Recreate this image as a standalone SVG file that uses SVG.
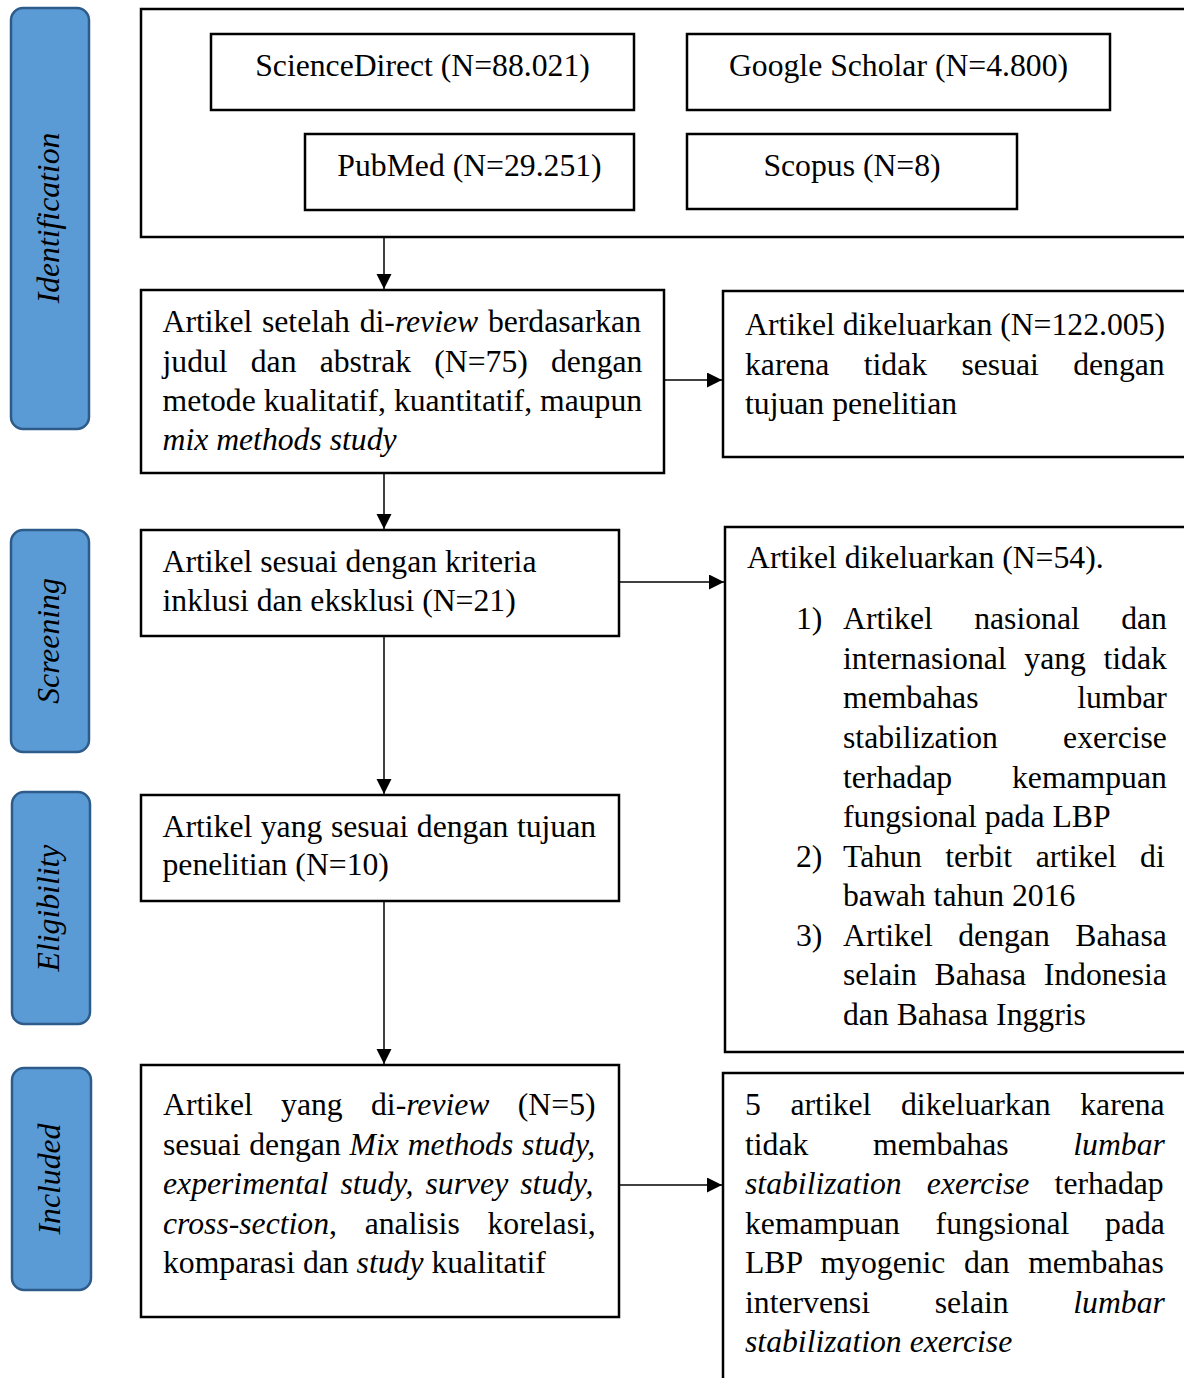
<svg xmlns="http://www.w3.org/2000/svg" width="1184" height="1378" viewBox="0 0 1184 1378">
<style>
.box{fill:#fff;stroke:#000;stroke-width:2.5}
.tab{fill:#5B9BD5;stroke:#2E5C8A;stroke-width:2.5}
.t{font-family:"Liberation Serif","Times New Roman",serif;font-size:31.7px;fill:#000}
.c{text-anchor:middle}
.i{font-style:italic}
.conn{stroke:#000;stroke-width:1.5;fill:none;marker-end:url(#arr)}
</style>
<defs>
<marker id="arr" markerUnits="userSpaceOnUse" markerWidth="16" markerHeight="16" refX="15" refY="7.5" orient="auto">
<path d="M0,0 L15,7.5 L0,15 z" fill="#000"/>
</marker>
</defs>
<rect width="1184" height="1378" fill="#fff"/>

<g id="tab-identification">
<rect class="tab" x="11" y="8" width="78" height="421" rx="12"/>
<text class="t i c" transform="translate(58.5,218) rotate(-90)">Identification</text>
</g>
<g id="tab-screening">
<rect class="tab" x="11" y="530" width="78" height="222" rx="12"/>
<text class="t i c" transform="translate(58.5,641) rotate(-90)">Screening</text>
</g>
<g id="tab-eligibility">
<rect class="tab" x="12" y="792" width="78" height="232" rx="12"/>
<text class="t i c" transform="translate(59,908) rotate(-90)">Eligibility</text>
</g>
<g id="tab-included">
<rect class="tab" x="12" y="1068" width="79" height="222" rx="12"/>
<text class="t i c" transform="translate(60,1179) rotate(-90)">Included</text>
</g>

<g id="identification-sources">
<rect class="box" x="141" y="9" width="1060" height="228"/>
<g id="sciencedirect">
<rect class="box" x="211" y="34" width="423" height="76"/>
<text class="t c" x="422.5" y="76">ScienceDirect (N=88.021)</text>
</g>
<g id="google-scholar">
<rect class="box" x="687" y="34" width="423" height="76"/>
<text class="t c" x="898.5" y="76">Google Scholar (N=4.800)</text>
</g>
<g id="pubmed">
<rect class="box" x="305" y="134" width="329" height="76"/>
<text class="t c" x="469.5" y="176">PubMed (N=29.251)</text>
</g>
<g id="scopus">
<rect class="box" x="687" y="134" width="330" height="75"/>
<text class="t c" x="852" y="176">Scopus (N=8)</text>
</g>
</g>

<g id="screened-title-abstract">
<rect class="box" x="141" y="290" width="523" height="183"/>
<text class="t" x="162.5" y="332" word-spacing="1.8">Artikel setelah di-<tspan class="i">review</tspan> berdasarkan</text>
<text class="t" x="162.5" y="371.5" word-spacing="15.2">judul dan abstrak (N=75) dengan</text>
<text class="t" x="162.5" y="411">metode kualitatif, kuantitatif, maupun</text>
<text class="t i" x="162.5" y="450">mix methods study</text>
</g>

<g id="excluded-1">
<rect class="box" x="723" y="291" width="480" height="166"/>
<text class="t" x="745" y="335">Artikel dikeluarkan (N=122.005)</text>
<text class="t" x="745" y="374.5" word-spacing="26.4">karena tidak sesuai dengan</text>
<text class="t" x="745" y="414">tujuan penelitian</text>
</g>

<g id="inclusion-criteria">
<rect class="box" x="141" y="530" width="478" height="106"/>
<text class="t" x="162.5" y="572">Artikel sesuai dengan kriteria</text>
<text class="t" x="162.5" y="611">inklusi dan eksklusi (N=21)</text>
</g>

<g id="excluded-2">
<rect class="box" x="725" y="527" width="478" height="525"/>
<text class="t" x="747" y="568">Artikel dikeluarkan (N=54).</text>
<text class="t" x="796" y="629">1)</text>
<text class="t" x="843" y="629" word-spacing="33.5">Artikel nasional dan</text>
<text class="t" x="843" y="669" word-spacing="9.7">internasional yang tidak</text>
<text class="t" x="843" y="708" word-spacing="90.7">membahas lumbar</text>
<text class="t" x="843" y="748" word-spacing="57.3">stabilization exercise</text>
<text class="t" x="843" y="788" word-spacing="52">terhadap kemampuan</text>
<text class="t" x="843" y="827">fungsional pada LBP</text>
<text class="t" x="796" y="867">2)</text>
<text class="t" x="843" y="867" word-spacing="15.6">Tahun terbit artikel di</text>
<text class="t" x="843" y="906">bawah tahun 2016</text>
<text class="t" x="796" y="946">3)</text>
<text class="t" x="843" y="946" word-spacing="17.6">Artikel dengan Bahasa</text>
<text class="t" x="843" y="985" word-spacing="9.7">selain Bahasa Indonesia</text>
<text class="t" x="843" y="1025">dan Bahasa Inggris</text>
</g>

<g id="eligibility">
<rect class="box" x="141" y="795" width="478" height="106"/>
<text class="t" x="162.5" y="837" word-spacing="0.6">Artikel yang sesuai dengan tujuan</text>
<text class="t" x="162.5" y="875">penelitian (N=10)</text>
</g>

<g id="included">
<rect class="box" x="141" y="1065" width="478" height="252"/>
<text class="t" x="163" y="1115" word-spacing="20.4">Artikel yang di-<tspan class="i">review</tspan> (N=5)</text>
<text class="t" x="163" y="1154.5" word-spacing="0.9">sesuai dengan <tspan class="i">Mix methods study,</tspan></text>
<text class="t" x="163" y="1194" word-spacing="4.1"><tspan class="i">experimental study,</tspan> <tspan class="i">survey study,</tspan></text>
<text class="t" x="163" y="1233.5" word-spacing="19.8"><tspan class="i">cross-section</tspan>, analisis korelasi,</text>
<text class="t" x="163" y="1273">komparasi dan <tspan class="i">study</tspan> kualitatif</text>
</g>

<g id="excluded-3">
<rect class="box" x="723" y="1073" width="480" height="330"/>
<text class="t" x="745" y="1115" word-spacing="21.7">5 artikel dikeluarkan karena</text>
<text class="t" x="745" y="1154.5" word-spacing="56.8">tidak membahas <tspan class="i">lumbar</tspan></text>
<text class="t" x="745" y="1194" word-spacing="17.2"><tspan class="i">stabilization exercise</tspan> terhadap</text>
<text class="t" x="745" y="1233.5" word-spacing="27.8">kemampuan fungsional pada</text>
<text class="t" x="745" y="1273" word-spacing="10.6">LBP myogenic dan membahas</text>
<text class="t" x="745" y="1313" word-spacing="56.8">intervensi selain <tspan class="i">lumbar</tspan></text>
<text class="t i" x="745" y="1352">stabilization exercise</text>
</g>

<g id="connectors">
<line class="conn" x1="384" y1="237" x2="384" y2="289"/>
<line class="conn" x1="664" y1="380" x2="722" y2="380"/>
<line class="conn" x1="384" y1="473" x2="384" y2="529"/>
<line class="conn" x1="619" y1="582" x2="724" y2="582"/>
<line class="conn" x1="384" y1="636" x2="384" y2="794"/>
<line class="conn" x1="384" y1="901" x2="384" y2="1064"/>
<line class="conn" x1="619" y1="1185" x2="722" y2="1185"/>
</g>
</svg>
